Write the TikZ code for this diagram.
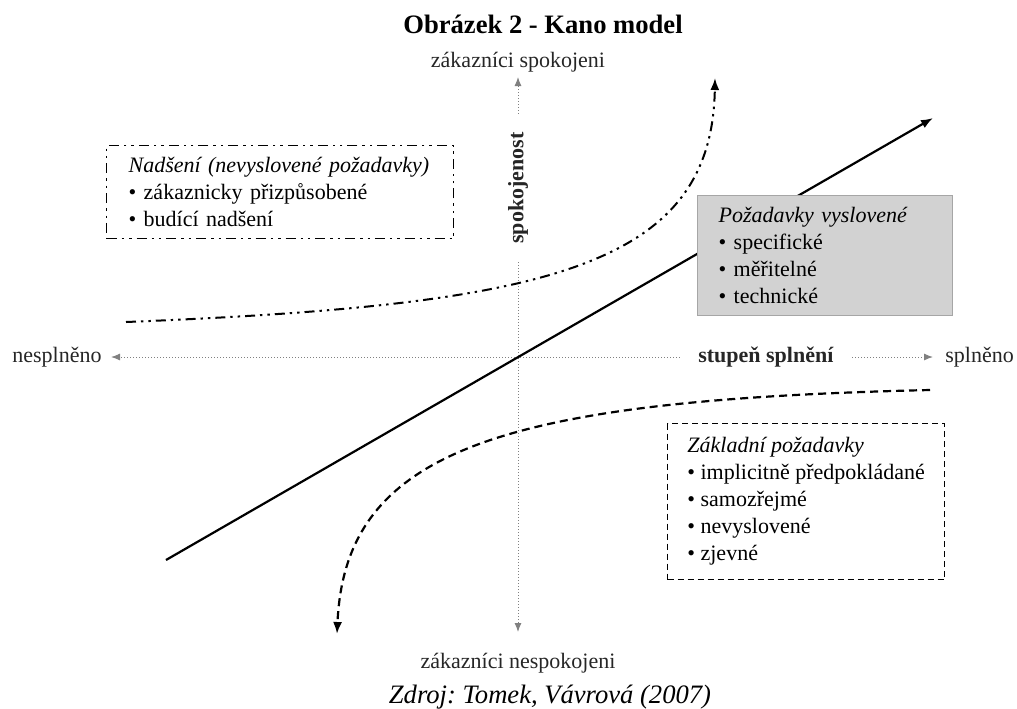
\documentclass[tikz,border=0pt]{standalone}
\usepackage{fontspec}
\setmainfont{Liberation Serif}
\usetikzlibrary{arrows.meta,positioning}
\frenchspacing

\tikzset{
    axis/.style={gray, line width=0.5pt, densely dotted, -{Latex[length=4.5pt,width=3.5pt]}},
    axislabel/.style={font=\fontsize{11}{13.5}\selectfont, text=black!85},
    caption/.style={font=\fontsize{13.3}{16}\selectfont},
    reqbox/.style={anchor=north west, align=left, font=\fontsize{11}{13.5}\selectfont},
    dashdotdot/.style={dash pattern=on 5pt off 2.5pt on 1.2pt off 2.5pt on 1.2pt off 2.5pt},
    tip/.style={-{Latex[length=6pt,width=4.5pt]}}
}

\begin{document}
\begin{tikzpicture}[x=0.5pt,y=-0.5pt]
    \useasboundingbox (0,0) rectangle (1017,708);

    % title and source
    \node[caption, anchor=base] (title) at (543,33) {\textbf{Obrázek 2 - Kano model}};
    \node[caption, anchor=base] (zdroj) at (550,703) {\textit{Zdroj: Tomek, Vávrová (2007)}};

    % axes
    \node[axislabel, rotate=90, inner sep=9pt] (spokojenost) at (518,188) {\textbf{spokojenost}};
    \node[axislabel, anchor=base] (spokojeni) at (518,67) {zákazníci spokojeni};
    \node[axislabel, anchor=base] (nespokojeni) at (518,668) {zákazníci nespokojeni};
    \node[axislabel, inner xsep=9pt] (stupen) at (766,357) {\textbf{stupeň splnění}};
    \node[axislabel, anchor=east, inner xsep=4.5pt] (nesplneno) at (111,357) {nesplněno};
    \node[axislabel, anchor=west, inner xsep=6pt] (splneno) at (933,357) {splněno};
    \coordinate (ytop) at (518,77);
    \coordinate (ybot) at (518,632);
    \draw [axis] (spokojenost.east) -- (ytop);
    \draw [axis] (spokojenost.west) -- (ybot);
    \draw [axis] (stupen.west) -- (nesplneno.east);
    \draw [axis] (stupen.east) -- (splneno.west);

    % performance line
    \coordinate (lin0) at (166,560);
    \coordinate (lin1) at (933,118);
    \draw [tip, line width=1.1pt] (lin0) -- (lin1);

    % excitement curve
    \coordinate (exc0) at (126,322);
    \coordinate (exc1) at (715,78);
    \draw [tip, line width=1pt, dashdotdot] (exc0) .. controls (540,305) and (712,270) .. (exc1);

    % basic curve
    \coordinate (bas0) at (930,390);
    \coordinate (bas1) at (337,634);
    \draw [tip, line width=1.1pt, dash pattern=on 4pt off 2.5pt] (bas0) .. controls (500,400) and (345,450) .. (bas1);

    % boxes
    \node[reqbox, draw, dashdotdot, line width=0.7pt, text width=151.5pt, inner xsep=11pt,
        minimum height=46.5pt] (nadseni) at (106,145)
        {\textit{Nadšení (nevyslovené požadavky)}\\ • zákaznicky přizpůsobené\\ • budící nadšení};
    \node[reqbox, draw=gray!70, fill=gray!35, line width=0.7pt, text width=106.5pt, inner xsep=10.5pt,
        minimum height=60pt] (vyslovene) at (697,195)
        {\textit{Požadavky vyslovené}\\ • specifické\\ • měřitelné\\ • technické};
    \node[reqbox, draw, dash pattern=on 3pt off 2pt, line width=0.6pt, minimum width=138.5pt,
        minimum height=78pt] (zakladni) at (667,423)
        {\textit{Základní požadavky}\\ • implicitně předpokládané\\ • samozřejmé\\ • nevyslovené\\ • zjevné};
\end{tikzpicture}
\end{document}
